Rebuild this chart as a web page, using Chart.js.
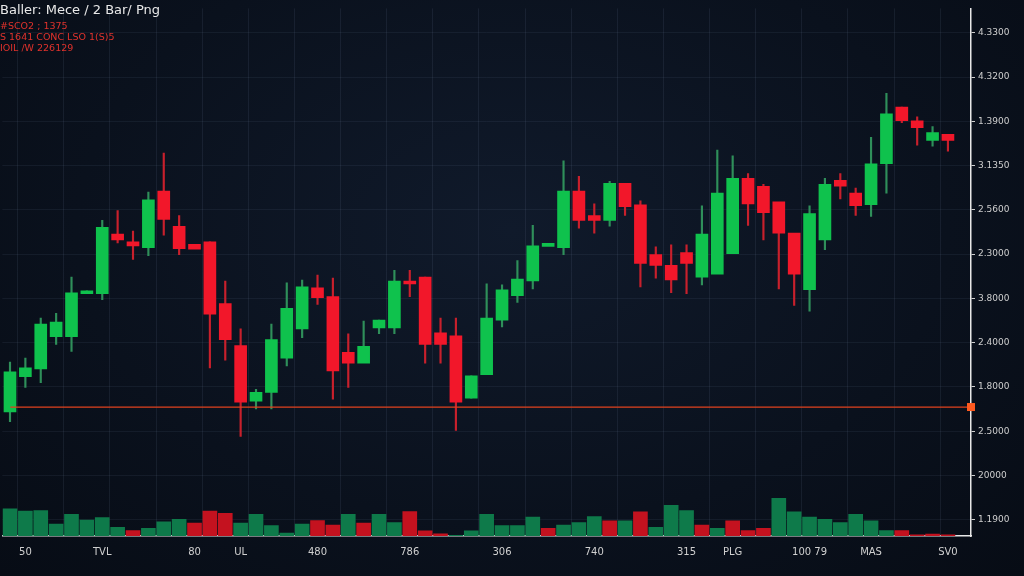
<!DOCTYPE html>
<html>
<head>
<meta charset="utf-8">
<script src="https://cdn.jsdelivr.net/npm/chart.js@4"></script>
<style>
  html, body { margin: 0; padding: 0; background: #0a111d; }
  #wrap { position: relative; width: 1024px; height: 576px;
    background: radial-gradient(ellipse at 50% 40%, #101a2b 0%, #0a111d 60%, #070c15 100%); }
  #titulo { position: absolute; left: 0; top: 2px; font: 13px "DejaVu Sans", sans-serif; color: #e8e8e8; }
  .rojo { position: absolute; left: 0; font: 9.5px "DejaVu Sans", sans-serif; color: #e0322c; }
</style>
</head>
<body>
<div id="wrap">
  <canvas id="grafico" width="1024" height="576"></canvas>
  <div id="titulo">Baller: Mece / 2 Bar/ Png</div>
  <div class="rojo" style="top:20px">#SCO2 ; 1375</div>
  <div class="rojo" style="top:31px">S 1641 CONC LSO 1(S)5</div>
  <div class="rojo" style="top:42px">IOIL /W 226129</div>
</div>
<script>
// velas: apertura, cierre, maximo, minimo
const apertura = [187,223,231,264,264,308,308,369,361,355,413,377,357,361,298,255,198,207,242,272,314,305,248,237,273,273,321,325,268,265,201,225,281,306,321,358,355,413,388,383,421,399,348,337,350,325,328,349,426,418,402,370,312,363,424,411,399,441,499,485,465,471];
const cierre   = [228,232,277,279,309,311,376,363,357,404,384,354,355,287,261,197,207,261,293,315,304,229,237,254,281,321,318,256,256,197,224,283,312,323,357,358,413,383,383,421,397,339,337,322,339,369,411,426,400,391,370,328,390,420,418,398,441,492,485,478,473,465];
const maximo   = [238,242,283,288,325,311,383,393,372,412,452,388,357,361,321,272,210,277,319,322,327,324,267,280,281,332,332,325,283,283,224,318,317,342,378,358,444,428,400,423,421,403,356,358,358,398,455,449,431,420,387,356,398,426,431,416,468,513,499,489,479,471];
const minimo   = [177,212,217,256,249,308,302,360,343,347,368,348,355,232,240,162,190,190,234,263,297,200,212,238,267,267,305,237,237,168,201,225,274,299,313,358,348,375,370,377,388,315,324,309,308,317,336,393,378,363,313,296,290,353,405,388,387,411,483,460,459,454];
const volumen  = [84,77,79,37,67,49,57,27,17,24,44,52,40,77,70,40,67,32,9,37,48,34,67,40,67,42,76,16,7,2,16,67,32,32,59,24,34,42,60,47,47,75,27,95,79,34,24,47,17,24,117,75,59,52,42,67,47,17,17,4,6,4];
const volSube  = [1,1,1,1,1,1,1,1,0,1,1,1,0,0,0,1,1,1,1,1,0,0,1,0,1,1,0,0,0,1,1,1,1,1,1,0,1,1,1,0,1,0,1,1,1,0,1,0,0,0,1,1,1,1,1,1,1,1,0,0,0,0];
const etiquetasX = {1:"50",6:"TVL",12:"80",15:"UL",20:"480",26:"786",32:"306",38:"740",44:"315",47:"PLG",52:"100 79",56:"MAS",61:"SV0"};
const etiquetasY = ["4.3300","4.3200","1.3900","3.1350","2.5600","2.3000","3.8000","2.4000","1.8000","2.5000","20000","1.1900"];
const nivelSoporte = 192;

const VERDE = "#0fc24d", ROJO = "#f2172a";
const VOL_VERDE = "#0e7a4a", VOL_ROJO = "#c4121f";
const PISO = 60, ESCALA_VOL = 0.33;

// una categoria vacia al final deja aire antes del eje
const categorias = apertura.map((_, i) => i).concat([62]);
const colores = apertura.map((a, i) => cierre[i] >= a ? VERDE : ROJO);

// cuerpo minimo para dojis
const cuerpos = apertura.map((a, i) => {
  const c = cierre[i];
  return Math.abs(c - a) < 3 ? [Math.min(a, c) - 1.5, Math.max(a, c) + 1.5] : [a, c];
});

const lineaSoporte = {
  id: "lineaSoporte",
  afterDatasetsDraw(chart) {
    const { ctx, chartArea, scales } = chart;
    const y = scales.y.getPixelForValue(nivelSoporte);
    ctx.save();
    ctx.strokeStyle = "#e0421e";
    ctx.lineWidth = 1.2;
    ctx.beginPath();
    ctx.moveTo(chartArea.left + 8, y);
    ctx.lineTo(chartArea.right, y);
    ctx.stroke();
    ctx.fillStyle = "#ff5a1f";
    ctx.fillRect(chartArea.right - 4, y - 4, 8, 8);
    ctx.restore();
  }
};

const ctx = document.getElementById("grafico").getContext("2d");
new Chart(ctx, {
  type: "bar",
  data: {
    labels: categorias,
    datasets: [
      {
        data: volumen.map(v => [PISO, PISO + v * ESCALA_VOL]),
        backgroundColor: volSube.map(s => s ? VOL_VERDE : VOL_ROJO),
        barThickness: 14, grouped: false, order: 3
      },
      {
        data: maximo.map((h, i) => [minimo[i], h]),
        backgroundColor: colores.map(c => c === VERDE ? "#2f8f5a" : "#c8202c"),
        barThickness: 1.5, grouped: false, order: 2
      },
      {
        data: cuerpos,
        backgroundColor: colores,
        barThickness: 12, grouped: false, order: 1
      }
    ]
  },
  options: {
    responsive: false,
    animation: false,
    layout: { padding: { top: 0, bottom: 8, left: 0, right: 8 } },
    plugins: { legend: { display: false }, tooltip: { enabled: false } },
    scales: {
      x: {
        offset: true,
        grid: {
          color: ctx2 => ctx2.index % 3 === 1 ? "rgba(120,140,170,0.12)" : "transparent",
          drawTicks: false
        },
        border: { color: "#e8e8e8", width: 1.5 },
        ticks: {
          autoSkip: false, maxRotation: 0, padding: 10,
          color: "#d0d0d0", font: { size: 10, family: "DejaVu Sans" },
          callback: v => etiquetasX[v] || ""
        }
      },
      y: {
        position: "right",
        min: 60, max: 600,
        afterBuildTicks: s => { s.ticks = etiquetasY.map((_, i) => ({ value: 575 - i * 45.3 })); },
        afterFit: s => { s.width = 45; },
        grid: { color: "rgba(120,140,170,0.10)", tickLength: 4, tickColor: "#cfcfcf" },
        border: { color: "#e8e8e8", width: 1.5 },
        ticks: {
          color: "#cfcfcf", font: { size: 9, family: "DejaVu Sans" }, padding: 3,
          callback: (v, i) => etiquetasY[i]
        }
      }
    }
  },
  plugins: [lineaSoporte]
});
</script>
</body>
</html>
